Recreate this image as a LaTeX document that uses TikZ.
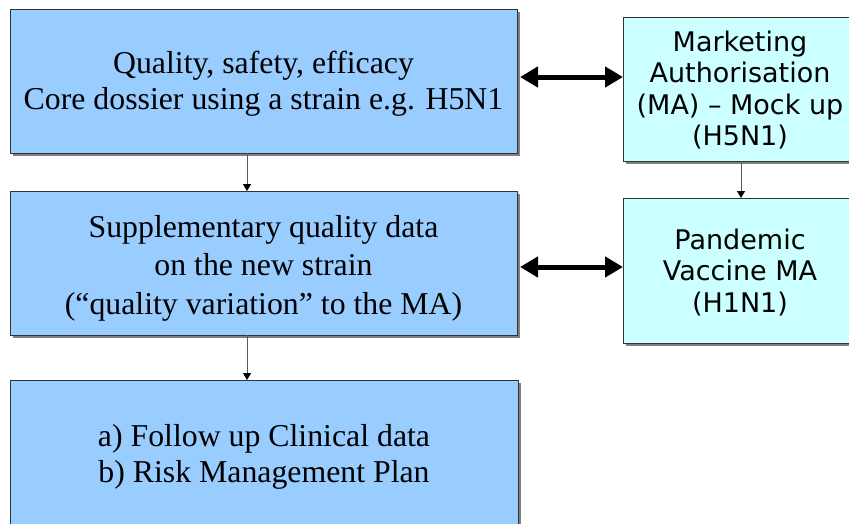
\documentclass[tikz,border=0pt]{standalone}
\usepackage{fontspec}
\setmainfont{Liberation Serif}
\newfontfamily\boxsans{DejaVu Sans}
\usetikzlibrary{shadows,arrows.meta}

\definecolor{stepblue}{HTML}{99CCFF}
\definecolor{macyan}{HTML}{CCFFFF}
\definecolor{edgegray}{HTML}{333333}
\definecolor{shadegray}{HTML}{808080}

\tikzset{
  boxbase/.style={draw=edgegray, line width=0.9pt, inner sep=0pt, outer sep=0pt,
    drop shadow={shadow xshift=3pt, shadow yshift=-3pt,
    fill=shadegray, opacity=1}},
  stepbox/.style={boxbase, fill=stepblue},
  mabox/.style={boxbase, fill=macyan},
  steptext/.style={align=center, inner sep=0pt, font=\fontsize{31.8}{36}\selectfont},
  matext/.style={align=center, inner sep=0pt, font=\boxsans\fontsize{27}{31.3}\selectfont},
  thinarrow/.style={draw=black!65, line width=1pt,
    -{Triangle[length=7pt, width=8pt, fill=black, color=black]}},
  fatarrow/.style={line width=5pt,
    {Triangle[length=18pt, width=20pt]}-{Triangle[length=18pt, width=20pt]}}
}

\begin{document}
\begin{tikzpicture}[x=1pt, y=-1pt]
  \useasboundingbox (0,0) rectangle (849,523);
  \clip (0,0) rectangle (849,523);

  % left column: steps of the procedure
  \node[stepbox, minimum width=507pt, minimum height=144pt,
    label={[steptext, yshift=-3pt]center:{Quality, safety, efficacy\\Core dossier using a strain e.g. H5N1}}]
    (b1) at (263.5,81) {};
  \node[stepbox, minimum width=507pt, minimum height=144pt,
    label={[steptext, font=\fontsize{31.8}{38.5}\selectfont, yshift=-5pt]center:{Supplementary quality data\\on the new strain\\(“quality variation” to the MA)}}]
    (b2) at (263.5,263) {};
  \node[stepbox, minimum width=508pt, minimum height=146pt,
    label={[steptext, yshift=-4pt]center:{a) Follow up Clinical data\\b) Risk Management Plan}}]
    (b3) at (264,453) {};

  % right column: marketing authorisations
  \node[mabox, minimum width=234pt, minimum height=144pt,
    label={[matext, yshift=-1pt]center:{Marketing\\Authorisation\\(MA) – Mock up\\(H5N1)}}]
    (r1) at (740,89) {};
  \node[mabox, minimum width=234pt, minimum height=145pt,
    label={[matext, yshift=-2pt]center:{Pandemic\\Vaccine MA\\(H1N1)}}]
    (r2) at (740,270.5) {};

  % thin downward arrows
  \draw[thinarrow] ([xshift=-16.5pt]b1.south) -- ([xshift=-16.5pt]b2.north);
  \draw[thinarrow] ([xshift=-16.5pt]b2.south) -- ([xshift=-17pt]b3.north);
  \draw[thinarrow] ([xshift=1pt]r1.south) -- ([xshift=1pt]r2.north);

  % thick two-way arrows between the columns
  \draw[fatarrow] ([xshift=3pt, yshift=4pt]b1.east) -- ([yshift=12pt]r1.west);
  \draw[fatarrow] ([xshift=3pt, yshift=-4pt]b2.east) -- ([yshift=3.5pt]r2.west);
\end{tikzpicture}
\end{document}
